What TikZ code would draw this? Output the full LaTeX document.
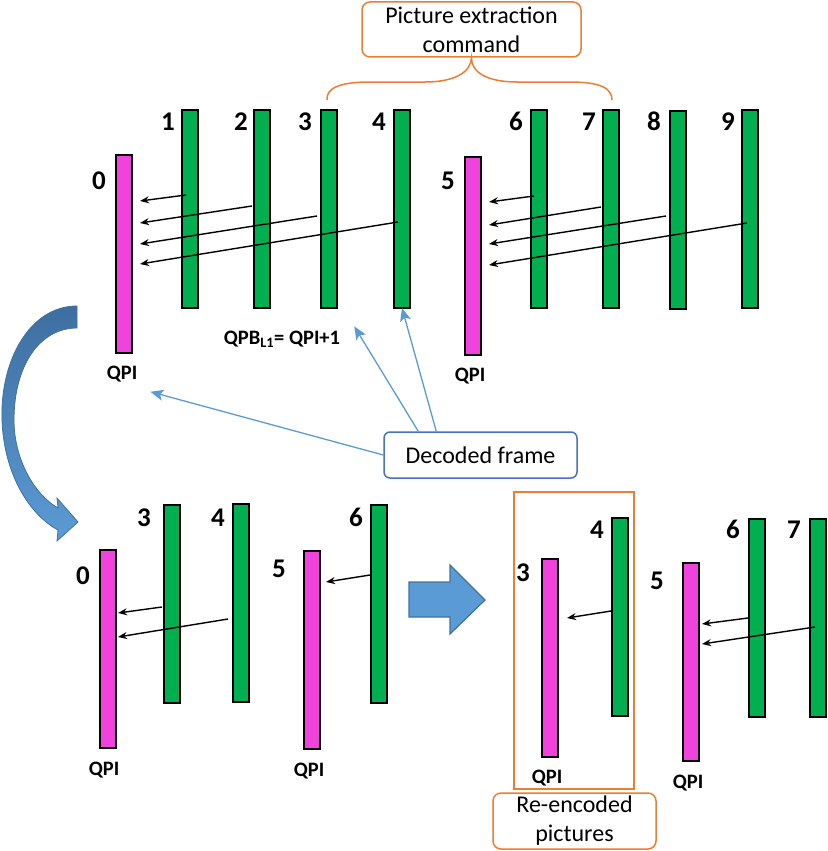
\documentclass[tikz,border=0pt]{standalone}
\usepackage{fontspec}
\setmainfont{Carlito}
\usetikzlibrary{arrows.meta,calc}
\definecolor{bargreen}{RGB}{0,176,80}
\definecolor{barmag}{RGB}{240,66,220}
\definecolor{offorange}{RGB}{237,125,49}
\definecolor{boxblue}{RGB}{68,114,196}
\definecolor{lineblue}{RGB}{91,155,213}
\definecolor{darkblue}{RGB}{65,113,156}
\definecolor{topblue}{RGB}{62,110,160}
\begin{document}
\begin{tikzpicture}[x=1pt,y=-1pt,
 gbar/.style={draw=black, line width=1.5pt, fill=bargreen, minimum width=16pt, minimum height=198pt, inner sep=0pt, outer sep=0pt, anchor=north west},
 mbar/.style={gbar, fill=barmag},
 num/.style={font=\fontsize{27}{32}\selectfont\bfseries, anchor=base, inner sep=0pt},
 qpi/.style={font=\fontsize{20.5}{24}\selectfont\bfseries, anchor=base, inner sep=0pt},
 arr/.style={line width=1.4pt, -{Stealth[length=9pt,width=7pt]}},
 barrow/.style={draw=lineblue, line width=1.3pt, -{Stealth[length=13pt,width=11pt,inset=3pt]}},
 callout/.style={line width=1.5pt, rounded corners=8pt, align=center, font=\fontsize{24}{29}\selectfont, inner sep=0pt},
]
\useasboundingbox (0,0) rectangle (827,851);

% ---------- top row ----------
\node[mbar] (b0) at (116,155) {};
\node[gbar] (b1) at (182,110) {};
\node[gbar] (b2) at (254,110) {};
\node[gbar] (b3) at (321,110) {};
\node[gbar] (b4) at (394,110) {};
\node[mbar] (b5) at (465,157) {};
\node[gbar] (b6) at (531,110) {};
\node[gbar] (b7) at (603,110) {};
\node[gbar] (b8) at (670,111) {};
\node[gbar] (b9) at (742,110) {};

\node[num] (n0) at (99,189) {0};
\node[num] (n1) at (168,130) {1};
\node[num] (n2) at (241,130) {2};
\node[num] (n3) at (305,130) {3};
\node[num] (n4) at (379,130) {4};
\node[num] (n5) at (448,189) {5};
\node[num] (n6) at (516,130) {6};
\node[num] (n7) at (589,130) {7};
\node[num] (n8) at (654,130) {8};
\node[num] (n9) at (728,130) {9};

\node[qpi] (q0) at (122,379) {QPI};
\node[qpi] (q5) at (470,381) {QPI};
\node[qpi] (qpb) at (282,344) {QPB\textsubscript{L1}= QPI+1};

\draw[arr] ($(b1.north west)+(4,85)$) -- ($(b0.north east)+(8,46)$);
\draw[arr] ($(b2.north west)+(-2,96)$) -- ($(b0.north east)+(8,68)$);
\draw[arr] ($(b3.north west)+(-4,106)$) -- ($(b0.north east)+(8,89)$);
\draw[arr] ($(b4.north west)+(4,112)$) -- ($(b0.north east)+(8,109)$);

\draw[arr] ($(b6.north west)+(3,86)$) -- ($(b5.north east)+(8,45)$);
\draw[arr] ($(b7.north west)+(-2,97)$) -- ($(b5.north east)+(8,68)$);
\draw[arr] ($(b8.north west)+(-4,105)$) -- ($(b5.north east)+(8,87)$);
\draw[arr] ($(b9.north west)+(5,113)$) -- ($(b5.north east)+(8,108)$);

% picture extraction callout and brace
\node[callout, draw=offorange, minimum width=219pt, minimum height=55pt] (ext) at (471.5,29.5) {Picture extraction\\command};
\draw[offorange, line width=1.5pt] ($(b3.north)+(-2,-10)$) .. controls (326,88) and (340,82) .. (370,82) -- (425,82)
  .. controls (455,82) and (471,72) .. (ext.south) .. controls (471,72) and (487,82) .. (517,82) -- (570,82)
  .. controls (600,82) and (612,88) .. ($(b7.north)+(1,-10)$);

% decoded frame callout
\node[callout, draw=boxblue, rounded corners=6pt, minimum width=193pt, minimum height=46pt] (dec) at (480.5,455) {Decoded frame};
\draw[barrow] (dec.west) -- ($(q0.south east)+(13,10)$);
\draw[barrow] ($(dec.north west)+(35,0)$) -- ($(qpb.north east)+(14,-4)$);
\draw[barrow] ($(dec.north west)+(53,0)$) -- (b4.south);

% curved arrow
\draw[darkblue, line width=0.8pt, top color=topblue, bottom color=lineblue]
  (77,306) .. controls (30,306) and (0,360) .. (2,420) .. controls (4,475) and (30,515) .. (58,530)
  -- (57,541) -- (78,522) -- (57,498) -- (58,508)
  .. controls (35,495) and (14,460) .. (14,420) .. controls (14,365) and (40,328) .. (77,328) -- cycle;

% ---------- bottom left ----------
\node[mbar] (c0) at (100,550) {};
\node[gbar] (c3) at (164,505) {};
\node[gbar] (c4) at (233,504) {};
\node[mbar] (c5) at (304,551) {};
\node[gbar] (c6) at (371,505) {};

\node[num] (m0) at (83,584) {0};
\node[num] (m3) at (144,526) {3};
\node[num] (m4) at (218,526) {4};
\node[num] (m5) at (279,577) {5};
\node[num] (m6) at (356,526) {6};
\node[qpi] (qc0) at (104,775) {QPI};
\node[qpi] (qc5) at (309,776) {QPI};

\draw[arr] ($(c3.north west)+(-2,102)$) -- ($(c0.north east)+(2,63)$);
\draw[arr] ($(c4.north west)+(-5,115)$) -- ($(c0.north east)+(2,87)$);
\draw[arr] ($(c6.north west)+(-1,70)$) -- ($(c5.north east)+(6,31)$);

% block arrow
\draw[darkblue, line width=1.2pt, fill=lineblue]
  (409,582) -- (450,582) -- (450,565) -- (485,600) -- (450,634) -- (450,617) -- (409,617) -- cycle;

% ---------- bottom right ----------
\node[draw=offorange, line width=1.5pt, minimum width=120pt, minimum height=297pt, inner sep=0pt] (grp) at (574,640.5) {};
\node[mbar] (d3) at (542,559) {};
\node[gbar] (d4) at (612,518) {};
\node[mbar] (d5) at (683,563) {};
\node[gbar] (d6) at (749,519) {};
\node[gbar] (d7) at (810,519) {};

\node[num] (r3) at (523,581) {3};
\node[num] (r4) at (597,538) {4};
\node[num] (r5) at (657,589) {5};
\node[num] (r6) at (733,538) {6};
\node[num] (r7) at (794,538) {7};
\node[qpi] (qd3) at (547,783) {QPI};
\node[qpi] (qd5) at (688,788) {QPI};

\draw[arr] ($(d4.north west)+(-1,93)$) -- ($(d3.north east)+(9,59)$);
\draw[arr] ($(d6.north west)+(-1,99)$) -- ($(d5.north east)+(3,61)$);
\draw[arr] ($(d7.north west)+(5,108)$) -- ($(d5.north east)+(3,81)$);

\node[callout, draw=offorange, minimum width=163pt, minimum height=56pt] (re) at (574.5,821) {Re-encoded\\pictures};
\end{tikzpicture}
\end{document}
